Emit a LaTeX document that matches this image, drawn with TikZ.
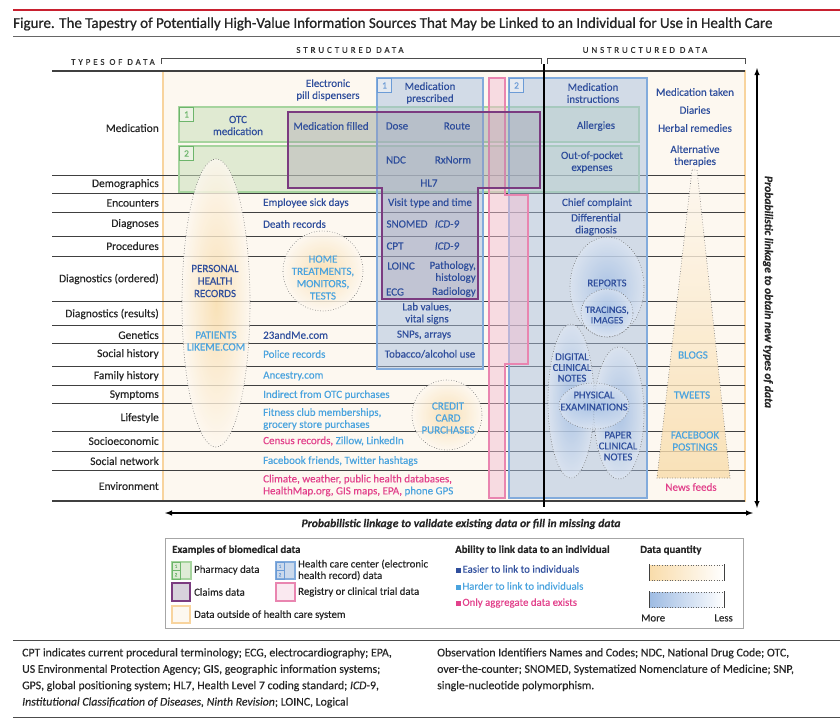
\documentclass[tikz,border=0pt]{standalone}
\usepackage{fontspec}
\setmainfont{Carlito}[FakeBold=0.3]
\newfontfamily\spacedfont{Carlito}[LetterSpace=32, FakeBold=0.3]
\newfontfamily\titlefont{Carlito}[FakeBold=0.9]

\definecolor{rulered}{HTML}{C8202F}
\definecolor{dkblue}{HTML}{2F4E9C}
\definecolor{ltblue}{HTML}{4AA3DE}
\definecolor{pinktxt}{HTML}{E2418B}
\definecolor{cream}{HTML}{FDF8F0}
\definecolor{creamedge}{HTML}{F8D49E}
\definecolor{grnedge}{HTML}{A6D49E}
\definecolor{grnfill}{HTML}{C9E0BB}
\definecolor{grntag}{HTML}{6DB56B}
\definecolor{bluedge}{HTML}{82ABDC}
\definecolor{blufill}{HTML}{A9BFDF}
\definecolor{blutag}{HTML}{6B9BD6}
\definecolor{pnkedge}{HTML}{E985B0}
\definecolor{pnkfill}{HTML}{F2BFD3}
\definecolor{purpedge}{HTML}{7B3B80}
\definecolor{purpfill}{HTML}{9C8FA8}
\definecolor{orshade}{HTML}{F9DCAA}
\definecolor{blshade}{HTML}{9DBBE3}

\begin{document}
\begin{tikzpicture}[x=1pt,y=-1pt,
  txt/.style={inner sep=0pt, font=\fontsize{11}{12}\selectfont},
  dk/.style={txt, text=dkblue},
  lt/.style={txt, text=ltblue},
  pk/.style={txt, text=pinktxt},
  rowlab/.style={inner sep=0pt, anchor=east, text=black!85, font=\fontsize{11.5}{12}\selectfont},
  hdr/.style={inner sep=0pt, text=black!80, font=\spacedfont\fontsize{9}{10}\selectfont},
  rowline/.style={black!75, line width=.8pt},
  grnbox/.style={draw=grnedge, line width=1.5pt, fill=grnfill, fill opacity=.55},
  blubox/.style={draw=bluedge, line width=1.6pt, fill=blufill, fill opacity=.5},
  pnkbox/.style={draw=pnkedge, line width=1.5pt, fill=pnkfill, fill opacity=.5},
  purpbox/.style={draw=purpedge, line width=2pt, fill=purpfill, fill opacity=.3},
  tagg/.style={draw=grntag, line width=1.2pt, text=grntag, fill=white, fill opacity=.4, text opacity=1, minimum size=14pt, inner sep=0pt, font=\fontsize{9.5}{9.5}\selectfont},
  tagb/.style={tagg, draw=blutag, text=blutag},
  dots/.style={dotted, black!60, line width=.6pt},
  orblob/.style={inner color=orshade, outer color=cream, opacity=.8},
  blblob/.style={inner color=blshade, outer color=blufill!40!white, opacity=.7},
  linktxt/.style={inner sep=0pt, text=black!85, font=\fontsize{11.6}{12}\selectfont\bfseries\itshape},
  legtxt/.style={inner sep=0pt, anchor=west, text=black!85, font=\fontsize{10.8}{11.5}\selectfont},
  leghead/.style={legtxt, font=\fontsize{10.8}{11.5}\selectfont\bfseries}]
\useasboundingbox (0,0) rectangle (840,720);

% Title
\draw[rulered, line width=2.5pt] (13,10) -- (840,10);
\node[anchor=west, inner sep=0pt, text=black!85, font=\titlefont\fontsize{15}{16}\selectfont] (title) at (13,24) {Figure. The Tapestry of Potentially High-Value Information Sources That May be Linked to an Individual for Use in Health Care};
\draw[black!60, line width=1pt] (13,36) -- (840,36);

% Column headings
\node[hdr] (strhdr) at (350,50) {STRUCTURED DATA};
\node[hdr] (unstrhdr) at (645,50) {UNSTRUCTURED DATA};
\node[hdr, anchor=east] (typhdr) at (155,62) {TYPES OF DATA};
\draw[black!70, line width=.7pt] (161,64) -- (161,58) -- (541,58) -- (541,64);
\draw[black!70, line width=.7pt] (547,64) -- (547,58) -- (745,58) -- (745,64);

% Panel
\draw[fill=cream, draw=creamedge, line width=1.5pt] (163,71) rectangle (745,501);

% Row lines
\draw[rowline] (52,175) -- (745,175) (52,193) -- (745,193) (52,212) -- (745,212)
  (52,236) -- (745,236) (52,256) -- (745,256) (52,301) -- (745,301)
  (52,325) -- (745,325) (52,343) -- (745,343) (52,366) -- (745,366)
  (52,385) -- (745,385) (52,403) -- (745,403) (52,431) -- (745,431)
  (52,451) -- (745,451) (52,470) -- (745,470);
\draw[black!75, line width=1.2pt] (52,71) -- (745,71) (52,501) -- (745,501);

% Row labels
\node[rowlab] (lmed) at (159,128) {Medication};
\node[rowlab] (ldemo) at (159,184) {Demographics};
\node[rowlab] (lenc) at (159,203) {Encounters};
\node[rowlab] (ldiag) at (159,224) {Diagnoses};
\node[rowlab] (lproc) at (159,246) {Procedures};
\node[rowlab] (lordr) at (159,279) {Diagnostics (ordered)};
\node[rowlab] (lres) at (159,314) {Diagnostics (results)};
\node[rowlab] (lgen) at (159,335) {Genetics};
\node[rowlab] (lsoc) at (159,354) {Social history};
\node[rowlab] (lfam) at (159,376) {Family history};
\node[rowlab] (lsym) at (159,395) {Symptoms};
\node[rowlab] (llife) at (159,418) {Lifestyle};
\node[rowlab] (lsec) at (159,441) {Socioeconomic};
\node[rowlab] (lnet) at (159,461) {Social network};
\node[rowlab] (lenv) at (159,486) {Environment};

% Pharmacy data
\draw[grnbox] (179,107) rectangle (639,142);
\draw[grnbox] (179,146) rectangle (639,192);
% Health care center data
\draw[blubox] (377,78) rectangle (483,369);
\draw[blubox] (509,78) rectangle (647,498);
% Registry data
\draw[pnkbox] (489,78) -- (505,78) -- (505,195) -- (528,195) -- (528,364) -- (505,364) -- (505,498) -- (489,498) -- cycle;
% Claims data
\draw[purpbox] (288,112) -- (540,112) -- (540,188) -- (478,188) -- (478,299) -- (382,299) -- (382,188) -- (288,188) -- cycle;

\node[tagg] (gtag1) at (186.5,114.5) {1};
\node[tagg] (gtag2) at (186.5,153.5) {2};
\node[tagb] (btag1) at (384.5,85.5) {1};
\node[tagb] (btag2) at (516.5,85.5) {2};

% Blobs outside the health care system
\shade[orblob] (216,303) ellipse (34 and 144);
\draw[dots] (216,303) ellipse (34 and 144);
\shade[orblob] (323,271) circle (40);
\draw[dots] (323,271) circle (40);
\shade[orblob] (447,415) circle (35);
\draw[dots] (447,415) circle (35);
\shade[top color=cream, bottom color=orshade, opacity=.8] (692,170) -- (697,170) -- (730,478) -- (657,478) -- cycle;
\draw[dots] (692,170) -- (697,170) -- (730,478) -- (657,478) -- cycle;

% Blobs of clinical notes
\shade[blblob] (607,287) ellipse (37 and 50);
\draw[dots] (607,287) ellipse (37 and 50);
\shade[blblob] (607,313) ellipse (26 and 24);
\draw[dots] (607,313) ellipse (26 and 24);
\shade[blblob] (571,401) ellipse (23 and 77);
\draw[dots] (571,401) ellipse (23 and 77);
\shade[blblob] (619,413) ellipse (25 and 66);
\draw[dots] (619,413) ellipse (25 and 66);
\shade[blblob] (594,406) ellipse (35 and 23);
\draw[dots] (594,406) ellipse (35 and 23);

% Structured entries
\node[dk, align=center] (pill) at (328,90) {Electronic\\pill dispensers};
\node[dk, align=center] (otc) at (238,125.5) {OTC\\medication};
\node[dk] (filled) at (331,126) {Medication filled};
\node[dk, align=center] (prescr) at (430,93) {Medication\\prescribed};
\node[dk] (dose) at (397,126) {Dose};
\node[dk] (route) at (457,126) {Route};
\node[dk] (ndc) at (396,160) {NDC};
\node[dk] (rxnorm) at (453,160) {RxNorm};
\node[dk] (hl7) at (429,183) {HL7};
\node[dk] (visit) at (430,203) {Visit type and time};
\node[dk] (snomed) at (407,224) {SNOMED};
\node[dk] (icda) at (447,224) {\textit{ICD-9}};
\node[dk] (cpt) at (395,246) {CPT};
\node[dk] (icdb) at (447,246) {\textit{ICD-9}};
\node[dk] (loinc) at (401,266) {LOINC};
\node[dk, align=right, anchor=east] (patho) at (476,272) {Pathology,\\histology};
\node[dk] (ecg) at (395,292) {ECG};
\node[dk, anchor=east] (radio) at (476,292) {Radiology};
\node[dk, align=center] (labval) at (427,313.5) {Lab values,\\vital signs};
\node[dk] (snps) at (424,335) {SNPs, arrays};
\node[dk] (tobacco) at (430,354) {Tobacco/alcohol use};

\node[dk, anchor=west] (sick) at (263,203) {Employee sick days};
\node[dk, anchor=west] (death) at (263,224) {Death records};
\node[dk, anchor=west] (genome) at (263,335) {23andMe.com};
\node[lt, anchor=west] (police) at (263,354) {Police records};
\node[lt, anchor=west] (ancestry) at (263,376) {Ancestry.com};
\node[lt, anchor=west] (indirect) at (263,395) {Indirect from OTC purchases};
\node[lt, anchor=west, align=left] (fitness) at (263,419) {Fitness club memberships,\\grocery store purchases};
\node[pk, anchor=west] (census) at (263,441) {Census records, \textcolor{ltblue}{Zillow, LinkedIn}};
\node[lt, anchor=west] (facebook) at (263,461) {Facebook friends, Twitter hashtags};
\node[pk, anchor=west, align=left] (climate) at (263,485.5) {Climate, weather, public health databases,\\HealthMap.org, GIS maps, EPA, \textcolor{ltblue}{phone GPS}};

\node[dk, align=center, font=\fontsize{11}{12.5}\selectfont] (phr) at (215,281) {PERSONAL\\HEALTH\\RECORDS};
\node[lt, align=center, font=\fontsize{11}{12}\selectfont] (plm) at (216,341) {PATIENTS\\LIKEME.COM};
\node[lt, align=center, font=\fontsize{11}{12.3}\selectfont] (home) at (323,277.5) {HOME\\TREATMENTS,\\MONITORS,\\TESTS};
\node[lt, align=center, font=\fontsize{11}{12}\selectfont] (credit) at (448,418) {CREDIT\\CARD\\PURCHASES};

% Unstructured entries
\node[dk, align=center] (instr) at (593,93) {Medication\\instructions};
\node[dk] (allergy) at (596,126) {Allergies};
\node[dk, align=center] (pocket) at (592,162) {Out-of-pocket\\expenses};
\node[dk] (chief) at (597,203) {Chief complaint};
\node[dk, align=center] (diff) at (596,224.5) {Differential\\diagnosis};
\node[dk, font=\fontsize{10.6}{11}\selectfont] (reports) at (607,283) {REPORTS};
\node[dk, align=center, font=\fontsize{10}{10.5}\selectfont] (tracing) at (607,315) {TRACINGS,\\IMAGES};
\node[dk, align=center, font=\fontsize{10.6}{10.7}\selectfont] (digital) at (572,367.5) {DIGITAL\\CLINICAL\\NOTES};
\node[dk, align=center, font=\fontsize{10.6}{12}\selectfont] (physical) at (594,401) {PHYSICAL\\EXAMINATIONS};
\node[dk, align=center, font=\fontsize{10.6}{11}\selectfont] (paper) at (618,446) {PAPER\\CLINICAL\\NOTES};

\node[dk] (taken) at (695,92) {Medication taken};
\node[dk] (diaries) at (695,110) {Diaries};
\node[dk] (herbal) at (695,128) {Herbal remedies};
\node[dk, align=center] (altern) at (695,156) {Alternative\\therapies};
\node[lt] (blogs) at (693,355) {BLOGS};
\node[lt] (tweets) at (692,395) {TWEETS};
\node[lt, align=center] (fbpost) at (695,441) {FACEBOOK\\POSTINGS};
\node[pk] (news) at (691,487) {News feeds};

% Divider and linkage arrows
\coordinate (divtop) at (544,64);
\coordinate (divbot) at (544,507);
\draw[black, line width=1.3pt] (divtop) -- (divbot);
\coordinate (vtop) at (757,68);
\coordinate (vbot) at (757,508);
\draw[latex-latex, line width=1.4pt] (vtop) -- (vbot);
\node[linktxt, rotate=-90] (newtypes) at (768,292) {Probabilistic linkage to obtain new types of data};
\coordinate (hleft) at (165,513);
\coordinate (hright) at (753,513);
\draw[latex-latex, line width=1.4pt] (hleft) -- (hright);
\node[linktxt] (validate) at (461,524) {Probabilistic linkage to validate existing data or fill in missing data};

% Legend
\draw[black!35, line width=1pt] (165,538) rectangle (743,628);
\node[leghead] (legex) at (172,550) {Examples of biomedical data};
\draw[grnbox, fill opacity=1, fill=grnfill!60!white] (172,562) rectangle (191,579);
\draw[draw=grntag, line width=1pt] (172,562) rectangle (180,570.5) (172,570.5) rectangle (180,579);
\node[inner sep=0pt, text=grntag, font=\fontsize{5}{5}\selectfont] (ph1) at (176,566.3) {1};
\node[inner sep=0pt, text=grntag, font=\fontsize{5}{5}\selectfont] (ph2) at (176,574.8) {2};
\node[legtxt] (legpharm) at (194,570) {Pharmacy data};
\draw[blubox, fill opacity=1, fill=blufill!60!white] (276,562) rectangle (295,579);
\draw[draw=blutag, line width=1pt] (276,562) rectangle (284,570.5) (276,570.5) rectangle (284,579);
\node[inner sep=0pt, text=blutag, font=\fontsize{5}{5}\selectfont] (eh1) at (280,566.3) {1};
\node[inner sep=0pt, text=blutag, font=\fontsize{5}{5}\selectfont] (eh2) at (280,574.8) {2};
\node[legtxt, align=left] (legehr) at (298,570) {Health care center (electronic\\health record) data};
\draw[purpbox, fill opacity=1, fill=purpfill!40!white] (172,583) rectangle (190,601);
\node[legtxt] (legclaims) at (194,592) {Claims data};
\draw[pnkbox, fill opacity=1, fill=pnkfill!35!white] (276,583) rectangle (295,601);
\node[legtxt] (legreg) at (298,592) {Registry or clinical trial data};
\draw[draw=creamedge, line width=1.5pt, fill=cream] (172,606) rectangle (190,623);
\node[legtxt] (legout) at (194,615) {Data outside of health care system};

\node[leghead] (leglink) at (455,550) {Ability to link data to an individual};
\node[legtxt, text=dkblue] (legeasy) at (456,569) {\rule{4.5pt}{4.5pt}\,Easier to link to individuals};
\node[legtxt, text=ltblue] (legharder) at (456,586) {\rule{4.5pt}{4.5pt}\,Harder to link to individuals};
\node[legtxt, text=pinktxt] (legaggr) at (456,603) {\rule{4.5pt}{4.5pt}\,Only aggregate data exists};

\node[leghead] (legqty) at (640,550) {Data quantity};
\shade[left color=orshade, right color=white] (649,565) rectangle (724,580);
\draw[dots] (649,565) -- (724,565) (649,580) -- (724,580);
\draw[black!75, line width=.8pt] (649,564) -- (649,581) (724,564) -- (724,581);
\shade[left color=blshade, right color=white] (649,592) rectangle (724,607);
\draw[dots] (649,592) -- (724,592) (649,607) -- (724,607);
\draw[black!75, line width=.8pt] (649,591) -- (649,608) (724,591) -- (724,608);
\node[legtxt] (legmore) at (641,618) {More};
\node[legtxt, anchor=east] (legless) at (733,618) {Less};

% Footnote
\draw[black!70, line width=1pt] (13,640) -- (840,640);
\node[anchor=north west, inner sep=0pt, align=left, text=black!85, font=\fontsize{11.8}{16.4}\selectfont] (footl) at (22,648) {CPT indicates current procedural terminology; ECG, electrocardiography; EPA,\\US Environmental Protection Agency; GIS, geographic information systems;\\GPS, global positioning system; HL7, Health Level 7 coding standard; \textit{ICD}-9,\\\textit{Institutional Classification of Diseases, Ninth Revision}; LOINC, Logical};
\node[anchor=north west, inner sep=0pt, align=left, text=black!85, font=\fontsize{11.8}{16.4}\selectfont] (footr) at (437,648) {Observation Identifiers Names and Codes; NDC, National Drug Code; OTC,\\over-the-counter; SNOMED, Systematized Nomenclature of Medicine; SNP,\\single-nucleotide polymorphism.};
\draw[black!70, line width=1pt] (13,717) -- (840,717);
\end{tikzpicture}
\end{document}
